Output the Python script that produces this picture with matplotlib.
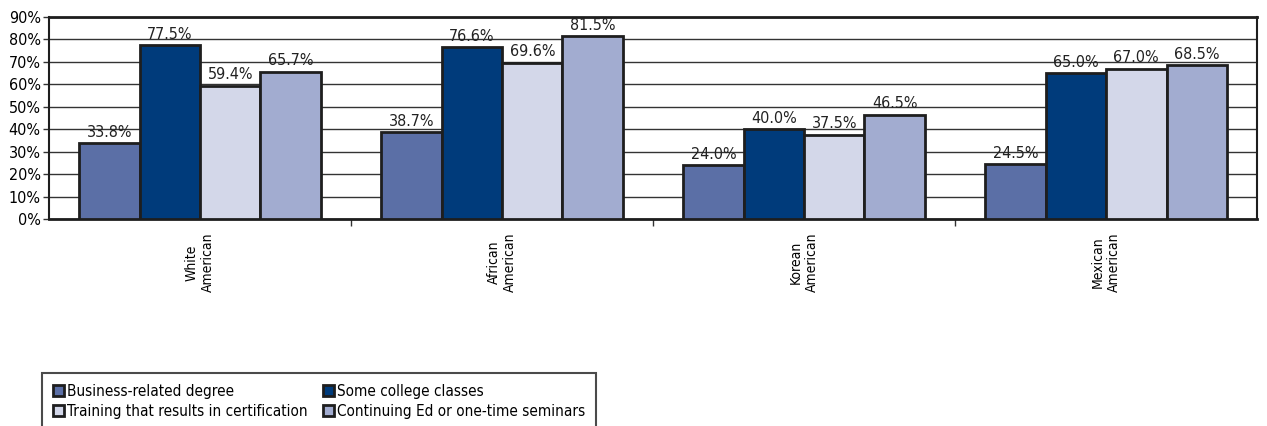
import numpy as np
import matplotlib.pyplot as plt
from matplotlib import font_manager

# pick a narrow face if one is installed
names = {f.name for f in font_manager.fontManager.ttflist}
narrow = 'Liberation Sans Narrow' if 'Liberation Sans Narrow' in names else 'DejaVu Sans'
plt.rcParams['font.family'] = [narrow, 'DejaVu Sans']
plt.rcParams['font.stretch'] = 'condensed'

groups = ['White\nAmerican', 'African\nAmerican', 'Korean\nAmerican', 'Mexican\nAmerican']
series = ['Business-related degree', 'Some college classes',
          'Training that results in certification', 'Continuing Ed or one-time seminars']
business = [33.8, 38.7, 24.0, 24.5]
college = [77.5, 76.6, 40.0, 65.0]
training = [59.4, 69.6, 37.5, 67.0]
continuing = [65.7, 81.5, 46.5, 68.5]
colors = ['#5b6fa6', '#003b7b', '#d3d7e9', '#a2acd0']

fig = plt.figure(figsize=(12.67, 4.26), dpi=100)
ax = fig.add_axes([0.0387, 0.486, 0.9535, 0.474])

x = np.arange(len(groups))
w = 0.2
handles = []
for i, (vals, c, name) in enumerate(zip([business, college, training, continuing], colors, series)):
    bars = ax.bar(x + (i - 1.5) * w, vals, w, color=c, edgecolor='#1e1e1e',
                  linewidth=2, label=name, zorder=3)
    handles.append(bars)
    for b, v in zip(bars, vals):
        ax.annotate(f'{v:.1f}%', (b.get_x() + b.get_width() / 2, v),
                    xytext=(0, 2.5), textcoords='offset points',
                    ha='center', va='bottom', fontsize=11.5, color='#222222', zorder=4)

ax.set_xlim(-0.5, len(groups) - 0.5)
ax.set_ylim(0, 90)
ax.set_yticks(range(0, 91, 10))
ax.set_yticklabels([f'{t}%' for t in range(0, 91, 10)], fontsize=11.5)
ax.yaxis.grid(True, color='#333333', linewidth=1, zorder=0)

ax.set_xticks(x)
ax.set_xticklabels(groups, rotation=90, fontsize=10, va='top', ha='center',
                   multialignment='center')
ax.tick_params(axis='x', length=0, pad=10)
ax.set_xticks(np.arange(0.5, len(groups) - 0.5), minor=True)
ax.tick_params(axis='x', which='minor', length=5, width=1, color='#333333')
ax.tick_params(axis='y', length=4, width=1, color='#333333', pad=2)

for s in ax.spines.values():
    s.set_color('#1e1e1e')
    s.set_linewidth(1.5)
ax.spines['top'].set_linewidth(2)
ax.spines['bottom'].set_linewidth(2)

# legend reads row by row: matplotlib fills columns, so reorder
order = [0, 2, 1, 3]
leg = fig.legend([handles[k] for k in order], [series[k] for k in order],
                 loc='upper left', bbox_to_anchor=(0.033, 0.124), borderaxespad=0,
                 ncol=2, frameon=True, fancybox=False, edgecolor='#1e1e1e', fontsize=11,
                 handlelength=0.75, handleheight=0.75, handletextpad=0.2,
                 columnspacing=1.0, borderpad=0.7, labelspacing=0.35)
leg.get_frame().set_linewidth(1.5)

fig.savefig('out.png', dpi=100)
